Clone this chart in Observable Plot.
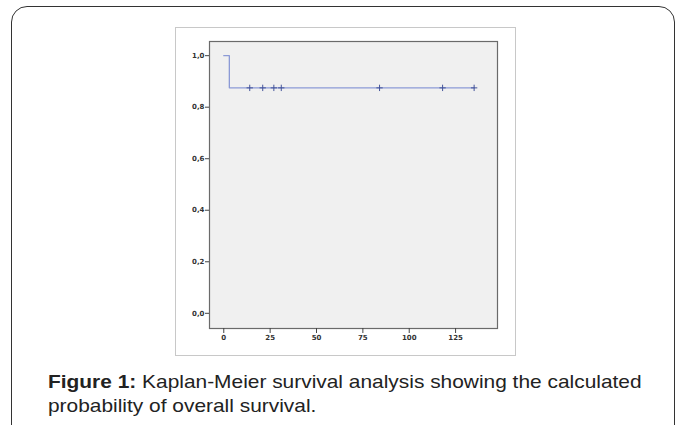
<!DOCTYPE html>
<html>
<head>
<meta charset="utf-8">
<script src="https://cdn.jsdelivr.net/npm/d3@7"></script>
<script src="https://cdn.jsdelivr.net/npm/@observablehq/plot@0.6"></script>
<style>
  html, body { margin: 0; padding: 0; background: #fff; width: 683px; height: 425px; overflow: hidden; }
  #outer { position: absolute; left: 11px; top: 6px; width: 664px; height: 440px;
           border: 1.5px solid #333; border-radius: 16px; box-sizing: border-box; }
  #imgbox { position: absolute; left: 175px; top: 27px; width: 341px; height: 329px;
            border: 1px solid #c8c8c8; box-sizing: border-box; background: #fff; }
  #chart { position: absolute; left: 175px; top: 27px; }
  #caption { position: absolute; left: 48px; top: 370px;
             font-family: "Liberation Sans", Arial, sans-serif; font-size: 19px; line-height: 24px; color: #222;
             white-space: nowrap; transform: scaleX(1.1); transform-origin: 0 0; }
  #caption div { display: block; }
</style>
</head>
<body>
<div id="outer"></div>
<div id="imgbox"></div>
<div id="chart"></div>
<div id="caption">
  <div><span style="font-weight:bold">Figure 1:</span><span> Kaplan-Meier survival analysis showing the calculated</span></div>
  <div><span>probability of overall survival.</span></div>
</div>
<script>
// Kaplan-Meier step curve
const stepTimes = [0, 3, 135];
const stepSurvival = [1.0, 0.875, 0.875];
// censored observations
const censorTimes = [14, 21, 27, 31, 84, 118, 135];
const censorSurvival = [0.875, 0.875, 0.875, 0.875, 0.875, 0.875, 0.875];
// axis ticks
const xTicks = [0, 25, 50, 75, 100, 125];
const yTicks = [0.0, 0.2, 0.4, 0.6, 0.8, 1.0];

const steps = stepTimes.map((t, i) => ({t, s: stepSurvival[i]}));
const censors = censorTimes.map((t, i) => ({t, s: censorSurvival[i]}));

const chart = Plot.plot({
  width: 341,
  height: 329,
  marginLeft: 34,
  marginRight: 19,
  marginTop: 14,
  marginBottom: 28,
  style: {fontFamily: "DejaVu Sans, Verdana, sans-serif", fontSize: "7px", color: "#333", background: "transparent"},
  x: {domain: [-7.7, 147.6], ticks: xTicks, tickSize: 5, tickFormat: d => String(d), label: null},
  y: {domain: [-0.059, 1.055], ticks: yTicks, tickSize: 4, tickFormat: d => d.toFixed(1).replace(".", ","), label: null},
  marks: [
    Plot.frame({fill: "#f0f0f0", stroke: "#6a6a6a", strokeWidth: 1.2}),
    Plot.axisX({ticks: xTicks, tickSize: 5, tickPadding: 2, stroke: "#444", fontWeight: "bold", tickFormat: d => String(d)}),
    Plot.axisY({ticks: yTicks, tickSize: 4, tickPadding: 1, stroke: "#444", fontWeight: "bold", tickFormat: d => d.toFixed(1).replace(".", ",")}),
    Plot.line(steps, {x: "t", y: "s", curve: "step-after", stroke: "#8c9ad6", strokeWidth: 1.3}),
    Plot.dot(censors, {x: "t", y: "s", symbol: "plus", r: 2.2, stroke: "#44549a", strokeWidth: 1})
  ]
});
document.getElementById("chart").appendChild(chart);
</script>
</body>
</html>
